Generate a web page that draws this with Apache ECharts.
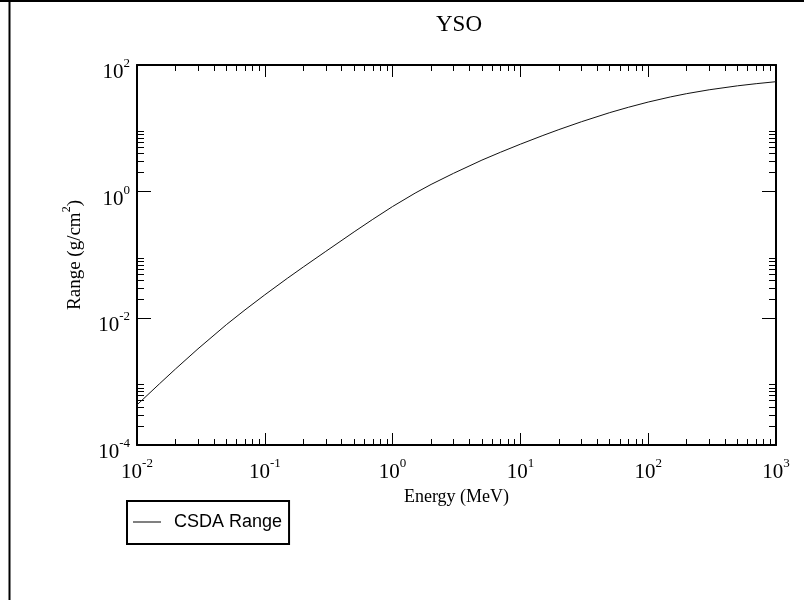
<!DOCTYPE html>
<html>
<head>
<meta charset="utf-8">
<script src="https://cdn.jsdelivr.net/npm/echarts@6/dist/echarts.min.js"></script>
<style>html,body{margin:0;padding:0;background:#fff}#c{width:804px;height:600px}</style>
</head>
<body>
<div id="c"></div>
<script>
// Data (electron CSDA range in YSO)
var energy = [0.01, 0.015, 0.02, 0.03, 0.05, 0.07, 0.1, 0.15, 0.2, 0.3, 0.5, 0.7, 1, 1.5, 2, 3, 5, 7, 10, 15, 20, 30, 50, 70, 100, 150, 200, 300, 500, 700, 1000];
var csdaRange = [4.30e-4, 9.27e-4, 1.585e-3, 3.30e-3, 7.94e-3, 0.0136, 0.0235, 0.0428, 0.0646, 0.114, 0.232, 0.366, 0.583, 0.948, 1.30, 1.95, 3.15, 4.20, 5.62, 7.71, 9.55, 12.7, 17.7, 21.5, 26.0, 31.4, 35.3, 40.6, 46.9, 50.7, 54.5];
var seriesName = 'CSDA Range';
var titleText = 'YSO';
var xName = 'Energy (MeV)';
var xMajor = [0.01, 0.1, 1, 10, 100, 1000];
var yMajor = [1e-4, 1e-2, 1, 100];
var minorMult = [2, 3, 4, 5, 6, 7, 8, 9];
var xMinor = [];
xMajor.slice(0, -1).forEach(function (d) { minorMult.forEach(function (m) { xMinor.push(+(m * d).toPrecision(6)); }); });
var yMinor = [];
yMajor.slice(0, -1).forEach(function (d) { minorMult.forEach(function (m) { yMinor.push(+(m * d).toPrecision(6)); }); });

var data = energy.map(function (e, i) { return [e, csdaRange[i]]; });

function powLabel(v) {
  var e = Math.round(Math.log10(v));
  return '{b|10}{e|' + e + '}';
}
var labelRich = {
  b: { fontFamily: 'Liberation Serif', fontSize: 21, color: '#000', lineHeight: 26, verticalAlign: 'bottom' },
  e: { fontFamily: 'Liberation Serif', fontSize: 13, color: '#000', lineHeight: 26, verticalAlign: 'top' }
};
var black = '#000';

function xAx(pos, ticks, len, line, labels) {
  return {
    type: 'log', min: 0.01, max: 1000, position: pos,
    axisLine: { show: line, lineStyle: { color: black, width: 2 } },
    axisTick: { show: true, inside: true, length: len, customValues: ticks, lineStyle: { color: black, width: 1 } },
    axisLabel: labels ? { show: true, customValues: ticks, formatter: powLabel, rich: labelRich, margin: 12 } : { show: false },
    splitLine: { show: false }, minorTick: { show: false },
    name: labels ? xName : '', nameLocation: 'middle', nameGap: 37,
    nameTextStyle: { fontFamily: 'Liberation Serif', fontSize: 18, color: black }
  };
}
function yAx(pos, ticks, len, line, labels) {
  return {
    type: 'log', min: 1e-4, max: 100, position: pos,
    axisLine: { show: line, lineStyle: { color: black, width: 2 } },
    axisTick: { show: true, inside: true, length: len, customValues: ticks, lineStyle: { color: black, width: 1 } },
    axisLabel: labels ? { show: true, customValues: ticks, formatter: powLabel, rich: labelRich, margin: 7, padding: [10, 0, 0, 0] } : { show: false },
    splitLine: { show: false }, minorTick: { show: false },
    name: labels ? '{n|Range (g/cm}{s|2}{n|)}' : '', nameLocation: 'middle', nameGap: 52, nameRotate: 90,
    nameTextStyle: { rich: {
      n: { fontFamily: 'Liberation Serif', fontSize: 19, color: black, lineHeight: 24, verticalAlign: 'bottom' },
      s: { fontFamily: 'Liberation Serif', fontSize: 12, color: black, lineHeight: 24, verticalAlign: 'top' }
    } }
  };
}

var chart = echarts.init(document.getElementById('c'), null, { renderer: 'canvas' });
chart.setOption({
  backgroundColor: '#fff',
  animation: false,
  title: { text: titleText, left: 454, top: 8, textAlign: 'center',
    textStyle: { fontFamily: 'Liberation Serif', fontSize: 23, fontWeight: 'normal', color: black } },
  grid: { left: 137, right: 28, top: 65, bottom: 155, show: false },
  legend: {
    data: [{ name: seriesName, icon: 'rect' }], left: 127, top: 501, orient: 'vertical',
    borderColor: black, borderWidth: 2, borderRadius: 0, padding: [12, 7, 13, 6],
    itemWidth: 28, itemHeight: 1,
    itemStyle: { color: '#000', borderWidth: 0 },
    textStyle: { fontFamily: 'Liberation Sans', fontSize: 18, color: black, padding: [0, 0, 0, 8] }
  },
  xAxis: [
    xAx('bottom', xMajor, 12, true, true),
    xAx('bottom', xMinor, 6, false, false),
    xAx('top', xMajor, 12, true, false),
    xAx('top', xMinor, 6, false, false)
  ],
  yAxis: [
    yAx('left', yMajor, 14, true, true),
    yAx('left', yMinor, 7, false, false),
    yAx('right', yMajor, 14, true, false),
    yAx('right', yMinor, 7, false, false)
  ],
  graphic: [
    { type: 'line', shape: { x1: 0, y1: 1, x2: 804, y2: 1 }, style: { stroke: black, lineWidth: 2 } },
    { type: 'line', shape: { x1: 9.5, y1: 0, x2: 9.5, y2: 600 }, style: { stroke: black, lineWidth: 2 } }
  ],
  series: [{
    name: seriesName, type: 'line', data: data, xAxisIndex: 0, yAxisIndex: 0,
    symbol: 'none', smooth: false,
    lineStyle: { color: '#111', width: 1 }, itemStyle: { color: '#111' }
  }]
});
</script>
</body>
</html>
